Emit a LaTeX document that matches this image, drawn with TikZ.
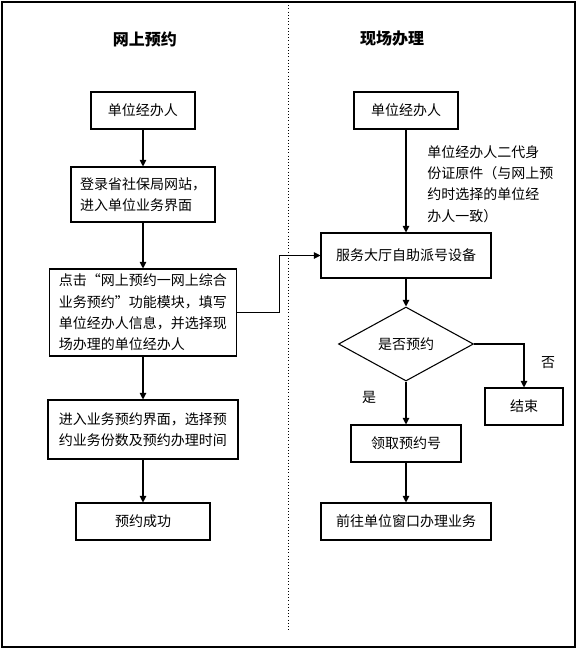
\documentclass[tikz,border=0pt]{standalone}
\usepackage{fontspec}
\setmainfont{Noto Sans CJK SC}
\usetikzlibrary{shapes.geometric, arrows.meta, positioning}

\begin{document}
\begin{tikzpicture}[
    x=0.75pt, y=-0.75pt,   % one unit = one pixel, y downwards
    >={Triangle[length=5pt, width=5pt]},
    stepbox/.style={draw, line width=0.8pt, inner sep=2pt, align=left,
        font=\fontsize{10.5}{16}\selectfont},
    decision/.style={draw, diamond, line width=0.8pt, inner sep=0pt,
        font=\fontsize{10.5}{16}\selectfont},
    flow/.style={->, line width=0.8pt},
    title/.style={font=\fontsize{12}{14}\selectfont\bfseries},
    note/.style={align=left, inner sep=0pt, font=\fontsize{10.5}{16}\selectfont}
]

    % --- Parameters ---
    \def\px{0.75pt} % one pixel
    \def\xL{143}    % axis of the left column
    \def\xR{406}    % axis of the right column

    \useasboundingbox (0,0) rectangle (577,651);

    % --- 1. Frame and divider ---
    \draw[line width=0.8pt] (2,2) rectangle (575,647);
    \draw[dotted, thin] (288,2) -- (288,631);

    % --- 2. Column titles ---
    \node[title] (titleL) at (145,39) {网上预约};
    \node[title] (titleR) at (392,39) {现场办理};

    % --- 3. Left column: online booking ---
    \node[stepbox, minimum width=104*\px, minimum height=37*\px] (agentL) at (\xL,110.5) {单位经办人};
    \node[stepbox, minimum width=144*\px, minimum height=55*\px] (loginL) at (\xL,194.5)
        {登录省社保局网站，\\进入单位业务界面};
    \node[stepbox, minimum width=187*\px, minimum height=87*\px] (clickL) at (\xL,312.5)
        {点击“网上预约一网上综合\\业务预约”功能模块，填写\\单位经办人信息，并选择现\\场办理的单位经办人};
    \node[stepbox, minimum width=190*\px, minimum height=59*\px] (enterL) at (\xL,429.5)
        {进入业务预约界面，选择预\\约业务份数及预约办理时间};
    \node[stepbox, minimum width=134*\px, minimum height=37*\px] (doneL) at (\xL,521.5) {预约成功};

    \draw[flow] (agentL) -- (loginL);
    \draw[flow] (loginL) -- (clickL);
    \draw[flow] (clickL) -- (enterL);
    \draw[flow] (enterL) -- (doneL);

    % --- 4. Right column: on-site handling ---
    \node[stepbox, minimum width=104*\px, minimum height=37*\px] (agentR) at (\xR,110.5) {单位经办人};
    \node[stepbox, minimum width=170*\px, minimum height=45*\px] (hallR) at (\xR,255.5) {服务大厅自助派号设备};
    \node[decision, aspect=1.82, minimum width=135*\px, minimum height=74*\px] (askR) at (\xR,344) {是否预约};
    \node[stepbox, minimum width=78*\px, minimum height=37*\px] (endR) at (524,406.5) {结束};
    \node[stepbox, minimum width=110*\px, minimum height=37*\px] (takeR) at (\xR,443.5) {领取预约号};
    \node[stepbox, minimum width=170*\px, minimum height=37*\px] (goR) at (\xR,521.5) {前往单位窗口办理业务};

    \node[note, anchor=north west] (idR) at (427,145)
        {单位经办人二代身\\份证原件（与网上预\\约时选择的单位经\\办人一致）};

    \draw[flow] (agentR) -- (hallR);
    \draw[flow] (hallR) -- (askR);
    \draw[flow] (askR.east) -| (endR.north);
    \draw[flow] (askR.south) -- (takeR.north);
    \draw[flow] (takeR) -- (goR);

    % answers of the decision
    \node[note] (noR) at (548,363) {否};
    \node[note] (yesR) at (369,397) {是};

    % --- 5. Link between the columns ---
    \draw[flow] (clickL.east) -- ++(42,0) |- (hallR.west);

\end{tikzpicture}
\end{document}
